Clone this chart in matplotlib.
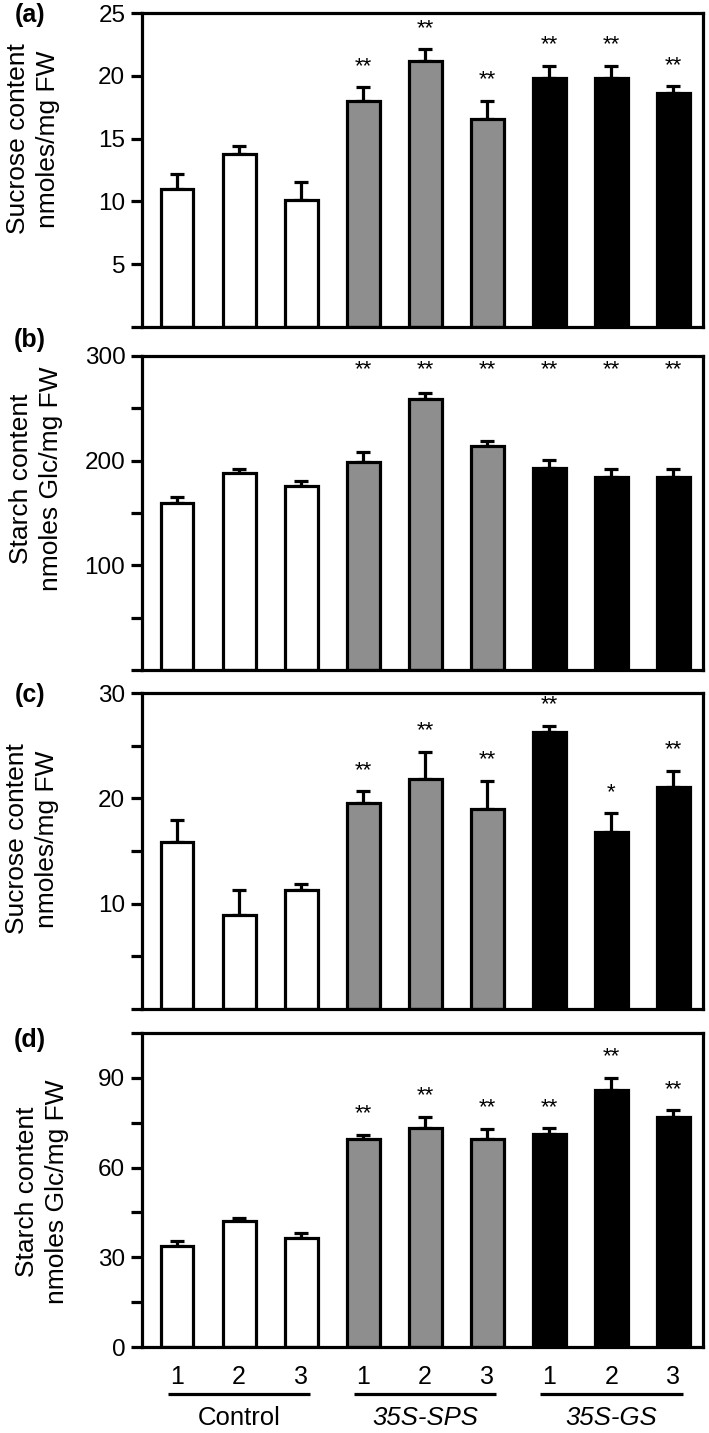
import matplotlib
matplotlib.use("Agg")
import matplotlib.pyplot as plt
import numpy as np

plt.rcParams['font.family'] = ['Liberation Sans', 'DejaVu Sans']

# ---------------- data ----------------
lines = ["1", "2", "3", "1", "2", "3", "1", "2", "3"]
groups = ["Control", "35S-SPS", "35S-GS"]
bar_colors = ["white"] * 3 + ["#8e8e8e"] * 3 + ["black"] * 3

sucrose_a = [11.0, 13.75, 10.15, 18.0, 21.15, 16.6, 19.8, 19.8, 18.6]
sucrose_a_se = [1.15, 0.65, 1.4, 1.1, 0.95, 1.4, 1.0, 1.0, 0.55]
stars_a = ["", "", "", "**", "**", "**", "**", "**", "**"]

starch_b = [160, 188, 176, 199, 258.6, 214, 192.7, 184.7, 184.7]
starch_b_se = [5, 4, 4.5, 9.5, 5.8, 4.8, 8, 7.6, 7.6]
stars_b = ["", "", "", "**", "**", "**", "**", "**", "**"]

sucrose_c = [15.9, 8.9, 11.3, 19.55, 21.8, 19.0, 26.3, 16.85, 21.1]
sucrose_c_se = [2.0, 2.4, 0.6, 1.1, 2.6, 2.65, 0.6, 1.75, 1.5]
stars_c = ["", "", "", "**", "**", "**", "**", "*", "**"]

starch_d = [33.8, 42.1, 36.4, 69.6, 73.1, 69.6, 71.2, 86.1, 77.0]
starch_d_se = [1.6, 1.1, 1.7, 1.4, 3.9, 3.4, 1.9, 4.0, 2.2]
stars_d = ["", "", "", "**", "**", "**", "**", "**", "**"]

ylabels = ["Sucrose content\nnmoles/mg FW", "Starch content\nnmoles Glc/mg FW",
           "Sucrose content\nnmoles/mg FW", "Starch content\nnmoles Glc/mg FW"]
panel_tags = ["(a)", "(b)", "(c)", "(d)"]

# ---------------- layout ----------------
W, H = 709, 1433
fig = plt.figure(figsize=(W / 100, H / 100), dpi=100)

def fx(px):
    return px / W

def fy(py):
    return 1 - py / H

panels = [
    dict(vals=sucrose_a, se=sucrose_a_se, stars=stars_a, top=13, bot=327,
         ylim=(0, 25), ticks=[0, 5, 10, 15, 20, 25], labels=["", "5", "10", "15", "20", "25"],
         ylab_xy=(33, 139), tag_y=15, fixed_star=None),
    dict(vals=starch_b, se=starch_b_se, stars=stars_b, top=356, bot=670,
         ylim=(0, 300), ticks=[0, 50, 100, 150, 200, 250, 300],
         labels=["", "", "100", "", "200", "", "300"],
         ylab_xy=(36, 479), tag_y=340, fixed_star=0.955),
    dict(vals=sucrose_c, se=sucrose_c_se, stars=stars_c, top=693, bot=1009,
         ylim=(0, 30), ticks=[0, 5, 10, 15, 20, 25, 30],
         labels=["", "", "10", "", "20", "", "30"],
         ylab_xy=(32, 839), tag_y=695, fixed_star=None),
    dict(vals=starch_d, se=starch_d_se, stars=stars_d, top=1033, bot=1347,
         ylim=(0, 105), ticks=[0, 15, 30, 45, 60, 75, 90, 105],
         labels=["0", "", "30", "", "60", "", "90", ""],
         ylab_xy=(42, 1192), tag_y=1040, fixed_star=None),
]

x = np.arange(len(lines))
LW = 2.3
for i, p in enumerate(panels):
    ax = fig.add_axes([fx(142), fy(p["bot"]), fx(703) - fx(142), (p["bot"] - p["top"]) / H])
    n = len(p["vals"])
    ax.errorbar(x, p["vals"], yerr=[np.zeros(n), p["se"]], fmt="none", ecolor="black",
                elinewidth=LW, capsize=5, capthick=LW, zorder=1)
    ax.bar(x, p["vals"], width=0.53, color=bar_colors, edgecolor="black", linewidth=LW, zorder=2)
    for xi, v, s, st in zip(x, p["vals"], p["se"], p["stars"]):
        if not st:
            continue
        if p["fixed_star"] is not None:
            ax.text(xi, p["fixed_star"], st, transform=ax.get_xaxis_transform(),
                    ha="center", va="center", fontsize=16)
        else:
            ax.annotate(st, (xi, v + s), xytext=(0, 15), textcoords="offset points",
                        ha="center", va="center", fontsize=16)
    ax.set_xlim(-0.565, 8.48)
    ax.set_ylim(*p["ylim"])
    ax.set_yticks(p["ticks"])
    ax.set_yticklabels(p["labels"])
    ax.tick_params(axis="y", direction="out", length=8, width=LW, labelsize=17.5, pad=4)
    for sp in ax.spines.values():
        sp.set_linewidth(LW)
    if i < 3:
        ax.set_xticks([])
    else:
        ax.set_xticks(x)
        ax.set_xticklabels(lines)
        ax.tick_params(axis="x", length=0, labelsize=18, pad=13)
        trans = ax.get_xaxis_transform()
        for g, name in enumerate(groups):
            g0 = g * 3
            ax.plot([g0 - 0.15, g0 + 2.15], [-0.15, -0.15], transform=trans, color="black",
                    linewidth=LW, clip_on=False, solid_capstyle="butt")
            ax.text(g0 + 1, -0.225, name, transform=trans, ha="center", va="center",
                    fontsize=18.5, style="normal" if g == 0 else "italic")
    fig.text(fx(p["ylab_xy"][0]), fy(p["ylab_xy"][1]), ylabels[i], rotation=90,
             ha="center", va="center", fontsize=19, linespacing=1.3, multialignment="center")
    fig.text(fx(30), fy(p["tag_y"]), panel_tags[i], ha="center", va="center",
             fontsize=18, fontweight="bold")

fig.savefig("out.png", dpi=100)
